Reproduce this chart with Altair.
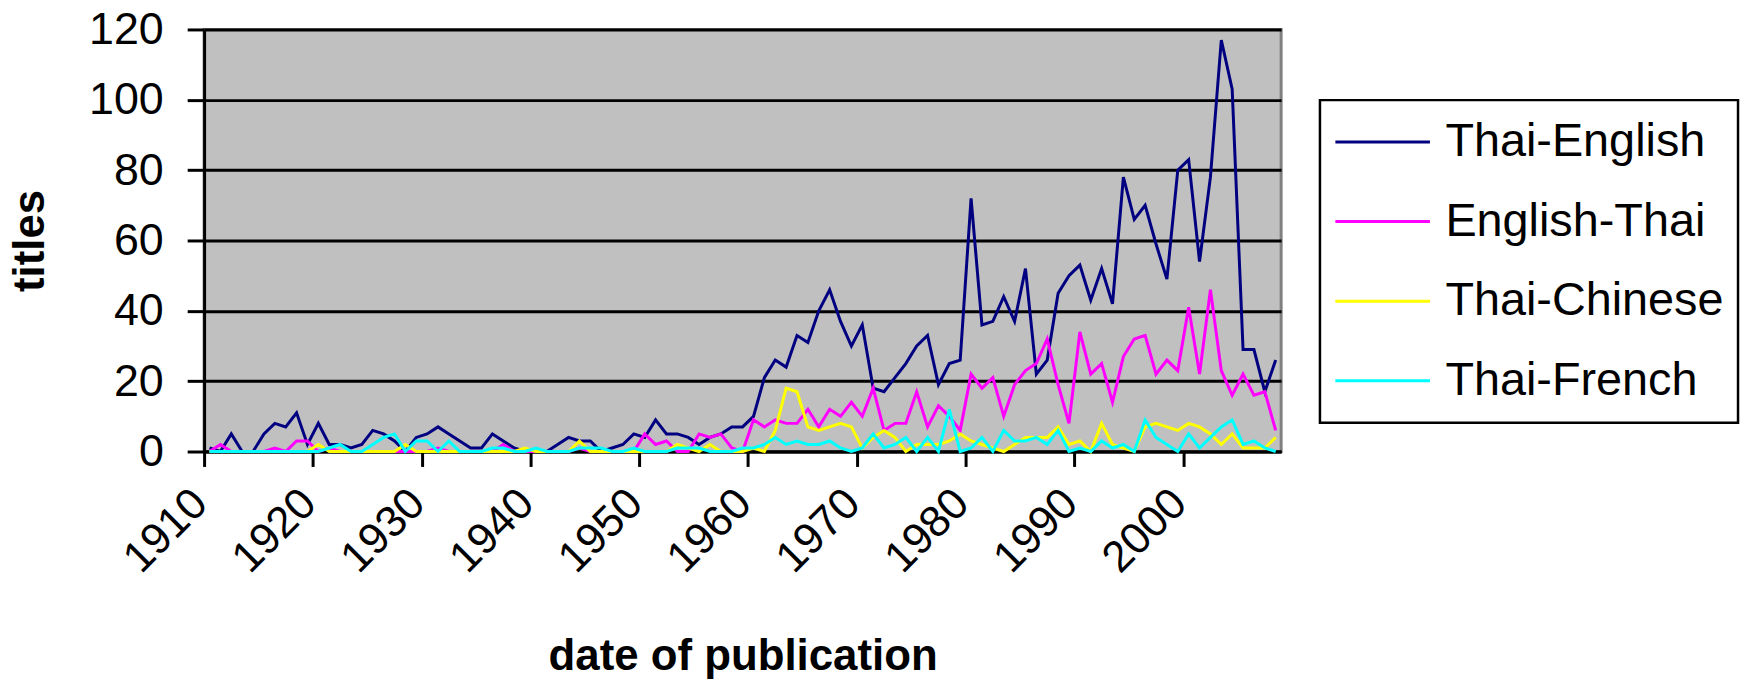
import altair as alt
import pandas as pd

years = list(range(1910, 2009))

thai_english = [
    1, 0, 5, 0, 0, 5, 8, 7, 11, 2,
    8, 2, 2, 1, 2, 6, 5, 3, 0, 4,
    5, 7, 5, 3, 1, 1, 5, 3, 1, 0,
    0, 0, 2, 4, 3, 3, 0, 1, 2, 5,
    4, 9, 5, 5, 4, 2, 4, 5, 7, 7,
    10, 21, 26, 24, 33, 31, 40, 46, 37, 30,
    36, 18, 17, 21, 25, 30, 33, 19, 25, 26,
    72, 36, 37, 44, 37, 52, 22, 26, 45, 50,
    53, 43, 52, 42, 78, 66, 70, 59, 49, 80,
    83, 54, 78, 117, 103, 29, 29, 17, 26,
]
english_thai = [
    0, 2, 0, 0, 0, 0, 1, 0, 3, 3,
    0, 1, 0, 0, 0, 0, 0, 0, 0, 0,
    0, 1, 0, 0, 0, 0, 0, 2, 0, 0,
    0, 0, 0, 0, 1, 0, 0, 0, 0, 0,
    5, 2, 3, 0, 0, 5, 4, 5, 1, 0,
    9, 7, 9, 8, 8, 12, 7, 12, 10, 14,
    10, 18, 6, 8, 8, 17, 7, 13, 10, 6,
    22, 18, 21, 10, 19, 23, 25, 32, 19, 8,
    34, 22, 25, 14, 27, 32, 33, 22, 26, 23,
    41, 22, 46, 23, 16, 22, 16, 17, 6,
]
thai_chinese = [
    0, 0, 0, 0, 0, 0, 0, 0, 0, 0,
    2, 0, 0, 0, 0, 0, 0, 0, 2, 0,
    0, 0, 0, 0, 0, 0, 0, 0, 0, 1,
    0, 0, 0, 0, 3, 0, 0, 0, 0, 0,
    0, 0, 0, 2, 1, 0, 2, 0, 0, 0,
    1, 0, 6, 18, 17, 7, 6, 7, 8, 7,
    1, 4, 6, 4, 0, 2, 2, 2, 3, 5,
    3, 2, 1, 0, 2, 4, 4, 4, 7, 2,
    3, 0, 8, 2, 1, 0, 7, 8, 7, 6,
    8, 7, 5, 2, 5, 1, 1, 1, 4,
]
thai_french = [
    0, 0, 0, 0, 0, 0, 0, 0, 0, 0,
    0, 1, 2, 0, 0, 2, 4, 5, 0, 3,
    3, 0, 3, 0, 0, 0, 1, 1, 0, 0,
    1, 0, 0, 0, 1, 1, 1, 0, 0, 1,
    0, 0, 0, 1, 1, 1, 0, 0, 0, 1,
    1, 2, 4, 2, 3, 2, 2, 3, 1, 0,
    1, 5, 1, 2, 4, 0, 4, 0, 12, 0,
    1, 4, 0, 6, 3, 3, 4, 2, 6, 0,
    1, 0, 3, 1, 2, 0, 9, 4, 2, 0,
    5, 1, 4, 7, 9, 2, 3, 1, 0,
]

series_names = ["Thai-English", "English-Thai", "Thai-Chinese", "Thai-French"]
series_colors = ["#000080", "#FF00FF", "#FFFF00", "#00FFFF"]
tick_labels = [1910, 1920, 1930, 1940, 1950, 1960, 1970, 1980, 1990, 2000]
y_ticks = [0, 20, 40, 60, 80, 100, 120]

rows = []
for name, vals in zip(series_names, [thai_english, english_thai, thai_chinese, thai_french]):
    for yr, v in zip(years, vals):
        rows.append({"year": yr, "value": v, "series": name, "s_order": series_names.index(name)})
df = pd.DataFrame(rows)

FONT = "Liberation Sans"

chart = alt.Chart(df).mark_line(strokeWidth=3, strokeJoin="miter").encode(
    x=alt.X(
        "year:Q",
        scale=alt.Scale(domain=[years[0] - 0.5, years[-1] + 0.5], nice=False, zero=False),
        axis=alt.Axis(
            values=[t - 0.5 for t in tick_labels],
            labelExpr="format(datum.value + 0.5, 'd')",
            labelAngle=315,
            labelAlign="right",
            labelBaseline="middle",
            labelFont=FONT,
            labelFontSize=44,
            labelColor="black",
            labelPadding=30,
            labelOffset=-4,
            labelFlush=False,
            labelOverlap=False,
            tickSize=15,
            tickWidth=3,
            tickColor="black",
            domainColor="black",
            domainWidth=3,
            grid=False,
            title="date of publication",
            titleFont=FONT,
            titleFontSize=44,
            titleFontWeight="bold",
            titleColor="black",
            titleBaseline="alphabetic",
            titleY=219,
        ),
    ),
    y=alt.Y(
        "value:Q",
        scale=alt.Scale(domain=[0, 120], nice=False),
        axis=alt.Axis(
            values=y_ticks,
            labelFont=FONT,
            labelFontSize=45,
            labelColor="black",
            labelPadding=24,
            labelFlush=False,
            tickSize=17,
            tickWidth=3,
            tickColor="black",
            domainColor="black",
            domainWidth=3,
            grid=True,
            gridColor="black",
            gridWidth=3,
            title="titles",
            titleFont=FONT,
            titleFontSize=44,
            titleFontWeight="bold",
            titleColor="black",
            titleAlign="center",
            titleBaseline="alphabetic",
            titleX=-161,
            titleY=212,
        ),
    ),
    color=alt.Color(
        "series:N",
        scale=alt.Scale(domain=series_names, range=series_colors),
        legend=alt.Legend(
            orient="none",
            legendX=1121,
            legendY=71,
            title=None,
            symbolType="stroke",
            symbolSize=9025,
            symbolStrokeWidth=3,
            labelFont=FONT,
            labelFontSize=47,
            labelColor="black",
            labelOffset=14,
            labelLimit=0,
            clipHeight=56,
            rowPadding=24,
            padding=14,
            strokeColor="black",
            fillColor="white",
        ),
    ),
    order=alt.Order("s_order:Q"),
).properties(
    width=1082,
    height=424,
    autosize=alt.AutoSizeParams(type="none"),
    padding={"left": 197, "top": 20, "right": 465, "bottom": 230},
).configure_view(
    fill="#C0C0C0",
    stroke="#808080",
    strokeWidth=3,
).configure_legend(
    strokeWidth=2.5,
)

chart.save("out.html", embed_options={"renderer": "svg", "actions": False})
